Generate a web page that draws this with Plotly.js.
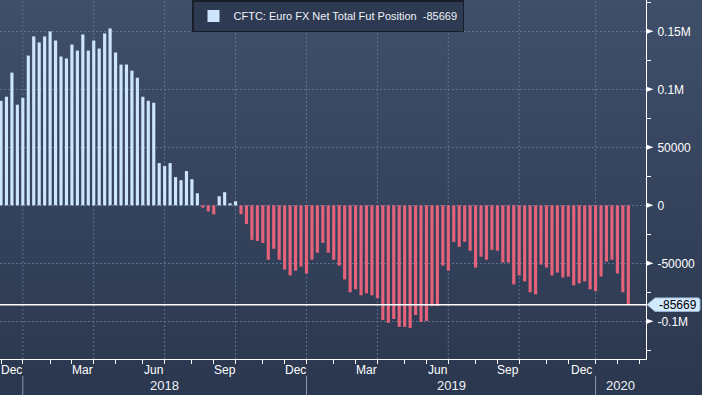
<!DOCTYPE html>
<html>
<head>
<meta charset="utf-8">
<script src="https://cdn.plot.ly/plotly-3.0.1.min.js"></script>
<style>
html,body{margin:0;padding:0;background:#2c3950;}
#chart{width:702px;height:395px;background:linear-gradient(to bottom,#3f4f6a 0%,#35435d 50%,#2b374e 100%);}
</style>
</head>
<body>
<div id="chart"></div>
<script>
// ---- data (weekly CFTC report dates) ----
const weekDates = [
 '2017-12-05','2017-12-12','2017-12-19','2017-12-26',
 '2018-01-02','2018-01-09','2018-01-16','2018-01-23','2018-01-30',
 '2018-02-06','2018-02-13','2018-02-20','2018-02-27',
 '2018-03-06','2018-03-13','2018-03-20','2018-03-27',
 '2018-04-03','2018-04-10','2018-04-17','2018-04-24',
 '2018-05-01','2018-05-08','2018-05-15','2018-05-22','2018-05-29',
 '2018-06-05','2018-06-12','2018-06-19','2018-06-26',
 '2018-07-03','2018-07-10','2018-07-17','2018-07-24','2018-07-31',
 '2018-08-07','2018-08-14','2018-08-21','2018-08-28',
 '2018-09-04','2018-09-11','2018-09-18','2018-09-25',
 '2018-10-02','2018-10-09','2018-10-16','2018-10-23','2018-10-30',
 '2018-11-06','2018-11-13','2018-11-20','2018-11-27',
 '2018-12-04','2018-12-11','2018-12-18','2018-12-25',
 '2019-01-01','2019-01-08','2019-01-15','2019-01-22','2019-01-29',
 '2019-02-05','2019-02-12','2019-02-19','2019-02-26',
 '2019-03-05','2019-03-12','2019-03-19','2019-03-26',
 '2019-04-02','2019-04-09','2019-04-16','2019-04-23','2019-04-30',
 '2019-05-07','2019-05-14','2019-05-21','2019-05-28',
 '2019-06-04','2019-06-11','2019-06-18','2019-06-25',
 '2019-07-02','2019-07-09','2019-07-16','2019-07-23','2019-07-30',
 '2019-08-06','2019-08-13','2019-08-20','2019-08-27',
 '2019-09-03','2019-09-10','2019-09-17','2019-09-24',
 '2019-10-01','2019-10-08','2019-10-15','2019-10-22','2019-10-29',
 '2019-11-05','2019-11-12','2019-11-19','2019-11-26',
 '2019-12-03','2019-12-10','2019-12-17','2019-12-24','2019-12-31',
 '2020-01-07','2020-01-14','2020-01-21','2020-01-28',
 '2020-02-04','2020-02-11','2020-02-18'
];
const netPosition = [
 90100, 93600, 114400, 86700,
 92700, 129100, 145600, 140400, 145600,
 149900, 142100, 128300, 126600,
 138600, 133400, 147300, 133400,
 142100, 135200, 148200, 152500,
 131700, 121300, 121300, 116100, 110000,
 93600, 90100, 88400, 36400,
 33800, 36400, 24300, 21700, 29500,
 22500, 10400, -2000, -5200,
 -7800, 7800, 11300, 1700,
 3500, -7700, -16200, -29800, -30700,
 -32400, -46900, -37500, -46900,
 -55400, -60500, -56300, -52800,
 -58800, -46900, -40900, -32400, -40900,
 -46900, -52000, -63900, -75000,
 -72400, -77600, -75900, -77600,
 -80100, -98900, -101400, -98000, -104800,
 -104800, -105700, -94600, -100600,
 -99700, -86900, -86900, -52000,
 -56300, -31500, -35800, -31500, -39200,
 -53700, -44300, -46900, -38400,
 -39200, -49400, -49400, -68200,
 -60500, -65600, -75000, -76700, -51100,
 -53700, -60500, -58000, -62200,
 -61400, -69000, -67300, -65600, -72400,
 -74100, -61400, -48600, -46900,
 -58800, -75000, -85669
];
const seriesName = 'CFTC: Euro FX Net Total Fut Position';

// ---- axis labels ----
const yTickVals = [-100000, -50000, 0, 50000, 100000, 150000];
const yTickText = ['-0.1M', '-50000', '0', '50000', '0.1M', '0.15M'];
const monthTickDates = [
 '2017-12-05','2018-01-02','2018-02-06','2018-03-06','2018-04-03','2018-05-01','2018-06-05',
 '2018-07-03','2018-08-07','2018-09-04','2018-10-02','2018-11-06','2018-12-04',
 '2019-01-01','2019-02-05','2019-03-05','2019-04-02','2019-05-07','2019-06-04',
 '2019-07-02','2019-08-06','2019-09-03','2019-10-01','2019-11-05','2019-12-03',
 '2020-01-07','2020-02-04','2020-03-03'
];
const monthLabels = ['Dec','Mar','Jun','Sep','Dec','Mar','Jun','Sep','Dec'];
const monthLabelStarts = ['2017-12-05','2018-03-06','2018-06-05','2018-09-04','2018-12-04','2019-03-05','2019-06-04','2019-09-03','2019-12-03'];
const quarterGridDates = ['2018-01-02','2018-04-03','2018-07-03','2018-10-02','2019-01-01','2019-04-02','2019-07-02','2019-10-01','2020-01-07'];
const yearStarts = ['2018-01-02','2019-01-01','2020-01-07'];
const yearLabels = ['2018','2019','2020'];

// ---- styling ----
const posColor = '#cde5fd';
const negColor = '#e5627b';
const gridColor = '#5f7290';
const xRange = ['2017-12-03 17:00', '2020-03-11 17:00'];
const yRange = [-132500, 177000];

const lastVal = netPosition[netPosition.length - 1];
const ms = d => Date.parse(d + 'T00:00:00Z');

const trace = {
  type: 'bar',
  x: weekDates,
  y: netPosition,
  name: seriesName + '&nbsp;&nbsp;' + lastVal,
  marker: { color: netPosition.map(v => v >= 0 ? posColor : negColor), line: { width: 0 } },
  hoverinfo: 'skip',
  showlegend: true
};

const shapes = [];
quarterGridDates.forEach(d => shapes.push({
  type: 'line', xref: 'x', yref: 'paper', x0: d, x1: d, y0: 0, y1: 1,
  line: { color: gridColor, width: 1, dash: '2px,2px' }, layer: 'below'
}));
yearStarts.forEach(d => shapes.push({
  type: 'line', xref: 'x', yref: 'paper', x0: d, x1: d, y0: -0.047, y1: -0.102,
  line: { color: '#8d99ab', width: 1 }
}));
yTickVals.forEach(v => shapes.push({
  type: 'path', xref: 'paper', yref: 'y', xsizemode: 'pixel', ysizemode: 'pixel',
  xanchor: 1, yanchor: v, path: 'M0,2.7 L7.5,0 L0,-2.7 Z',
  fillcolor: '#ffffff', line: { width: 0 }
}));
shapes.push({
  type: 'line', xref: 'paper', yref: 'y', x0: 0, x1: 1, y0: lastVal, y1: lastVal,
  line: { color: '#ffffff', width: 1.5 }, layer: 'above'
});
shapes.push({
  type: 'path', xref: 'paper', yref: 'y', xsizemode: 'pixel', ysizemode: 'pixel',
  xanchor: 1, yanchor: lastVal,
  path: 'M1,0 L9,6.8 L52,6.8 Q54,6.8 54,4.8 L54,-4.8 Q54,-6.8 52,-6.8 L9,-6.8 Z',
  fillcolor: '#d3e9fe', line: { color: '#9ab4cf', width: 1 }, layer: 'above'
});

const annotations = [];
monthLabelStarts.forEach((d, i) => {
  const k = monthTickDates.indexOf(d);
  const mid = (ms(monthTickDates[k]) + ms(monthTickDates[k + 1])) / 2;
  annotations.push({
    xref: 'x', yref: 'paper', x: mid, y: 0, yanchor: 'middle', xanchor: 'center', yshift: -11,
    text: monthLabels[i], showarrow: false, font: { size: 12, color: '#ffffff' }
  });
});
const xEnd = Date.parse(xRange[1].replace(' ', 'T') + ':00Z');
yearStarts.forEach((d, i) => {
  const end = i + 1 < yearStarts.length ? ms(yearStarts[i + 1]) : xEnd;
  annotations.push({
    xref: 'x', yref: 'paper', x: (ms(d) + end) / 2, y: 0, yanchor: 'middle', xanchor: 'center', yshift: -26,
    text: yearLabels[i], showarrow: false, font: { size: 13, color: '#eef2f7' }
  });
});
annotations.push({
  xref: 'paper', yref: 'y', x: 1, y: lastVal, xanchor: 'left', yanchor: 'middle', xshift: 11,
  text: String(lastVal), showarrow: false, font: { size: 12, color: '#000000' }
});

const layout = {
  width: 702, height: 395,
  margin: { l: 0, r: 56, t: 0, b: 36, pad: 0 },
  paper_bgcolor: 'rgba(0,0,0,0)',
  plot_bgcolor: 'rgba(0,0,0,0)',
  font: { family: 'Liberation Sans, Arial, sans-serif', size: 12, color: '#ffffff' },
  bargap: 0.42,
  showlegend: true,
  legend: {
    x: 192 / 646, xanchor: 'left', y: 1, yanchor: 'top',
    bgcolor: '#2d3a52', bordercolor: '#171e2a', borderwidth: 1.5,
    font: { size: 11, color: '#f0f3f7' }
  },
  xaxis: {
    type: 'date', range: xRange, fixedrange: true,
    tickmode: 'array', tickvals: monthTickDates, showticklabels: false,
    ticks: 'outside', ticklen: 4, tickcolor: '#ffffff', tickwidth: 1,
    showgrid: false, zeroline: false,
    showline: true, linecolor: '#ffffff', linewidth: 1
  },
  yaxis: {
    side: 'right', range: yRange, fixedrange: true,
    tickmode: 'array', tickvals: yTickVals, ticktext: yTickText,
    ticks: 'outside', ticklen: 8, tickcolor: 'rgba(0,0,0,0)',
    showgrid: true, gridcolor: gridColor, gridwidth: 1, griddash: '2px,2px',
    zeroline: false, showline: true, linecolor: '#ffffff', linewidth: 1,
    tickfont: { size: 12, color: '#ffffff' },
    minor: { tickmode: 'linear', tick0: 0, dtick: 25000, ticks: 'outside', ticklen: 4, tickcolor: '#ffffff', tickwidth: 1, showgrid: false }
  },
  shapes: shapes,
  annotations: annotations
};

Plotly.newPlot('chart', [trace], layout, { staticPlot: true, displayModeBar: false });
</script>
</body>
</html>
